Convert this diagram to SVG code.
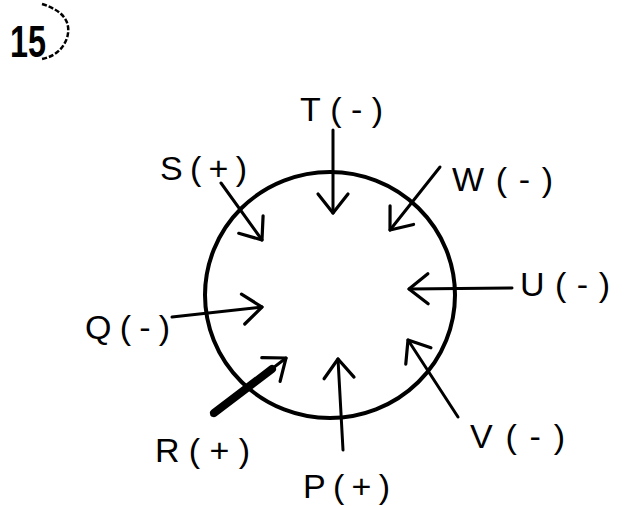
<svg xmlns="http://www.w3.org/2000/svg" width="627" height="506" viewBox="0 0 627 506">
<defs>
<marker id="head" markerUnits="userSpaceOnUse" markerWidth="40" markerHeight="40" refX="0" refY="0" viewBox="-22 -20 26 40" orient="auto" overflow="visible">
<path d="M-19,-15 L0,0 L-19,15" fill="none" stroke="#000" stroke-width="3.2" stroke-linecap="round" stroke-linejoin="round"/>
</marker>
</defs>
<style>
.lbl{font-family:"Liberation Sans","DejaVu Sans",sans-serif;font-size:34px;fill:#000;}
.arr{fill:none;stroke:#000;stroke-width:3;stroke-linecap:round;marker-end:url(#head);}
.ring{fill:none;stroke:#000;stroke-width:4;}
</style>
<rect width="627" height="506" fill="#fff"/>
<g id="title">
<text class="lbl" x="10" y="57" style="font-size:44px;font-weight:bold" textLength="36" lengthAdjust="spacingAndGlyphs">15</text>
<path d="M42,4 Q74,14 67,38 Q61,55 42,59" fill="none" stroke="#000" stroke-width="2.5" stroke-dasharray="5 2"/>
</g>
<g id="circle"><ellipse class="ring" cx="330" cy="295" rx="125" ry="123"/></g>
<g id="connectors">
<path class="arr" d="M221,183 L262,240"/>
<path class="arr" d="M333,130 L333,213"/>
<path class="arr" d="M440,167 L390,230"/>
<path class="arr" d="M512,288 L409,289"/>
<path class="arr" d="M172,317 L262,307"/>
<path class="arr" d="M212,415 L286,358"/>
<line x1="214" y1="413" x2="272" y2="369" stroke="#000" stroke-width="8" stroke-linecap="round"/>
<path class="arr" d="M343,450 L338,359"/>
<path class="arr" d="M458,417 L408,340"/>
</g>
<g id="S"><text class="lbl" x="160" y="180" textLength="87" lengthAdjust="spacing">S(+)</text></g>
<g id="T"><text class="lbl" x="300" y="121" textLength="83" lengthAdjust="spacing">T(-)</text></g>
<g id="W"><text class="lbl" x="452" y="191" textLength="101" lengthAdjust="spacing">W(-)</text></g>
<g id="U"><text class="lbl" x="520" y="296" textLength="90" lengthAdjust="spacing">U(-)</text></g>
<g id="Q"><text class="lbl" x="85" y="339" textLength="85" lengthAdjust="spacing">Q(-)</text></g>
<g id="R"><text class="lbl" x="155" y="462" textLength="95" lengthAdjust="spacing">R(+)</text></g>
<g id="P"><text class="lbl" x="303" y="498" textLength="87" lengthAdjust="spacing">P(+)</text></g>
<g id="V"><text class="lbl" x="470" y="448" textLength="95" lengthAdjust="spacing">V(-)</text></g>
</svg>
